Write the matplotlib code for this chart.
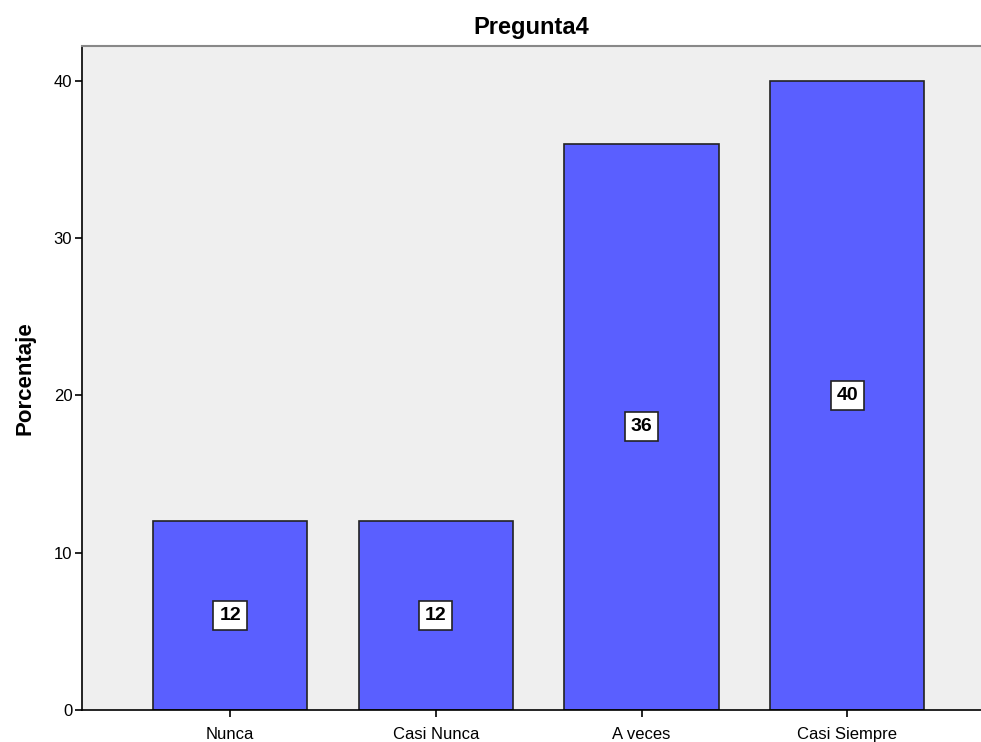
import matplotlib.pyplot as plt

# Response categories and percentages
categorias = ['Nunca', 'Casi Nunca', 'A veces', 'Casi Siempre']
porcentajes = [12, 12, 36, 40]

plt.rcParams['font.family'] = ['Liberation Sans', 'DejaVu Sans']

fig = plt.figure(figsize=(9.81, 7.42), dpi=100)
ax = fig.add_axes([0.0836, 0.0431, 0.9164, 0.8949])
ax.set_facecolor('#efefef')

x = range(len(categorias))
ax.bar(x, porcentajes, width=0.75, color='#5a5fff', edgecolor='#222222', linewidth=1.2, zorder=2)

# value labels in white boxes at mid-height of each bar
for xi, v in zip(x, porcentajes):
    ax.text(xi, v / 2, str(v), ha='center', va='center', fontsize=14, fontweight='bold',
            bbox=dict(boxstyle='square,pad=0.3', facecolor='white', edgecolor='#222222', linewidth=1.2),
            zorder=3)

ax.set_xlim(-0.72, 3.65)
ax.set_ylim(0, 42.2)
ax.set_xticks(list(x))
ax.set_xticklabels(categorias, fontsize=12)
ax.set_yticks([0, 10, 20, 30, 40])
ax.tick_params(axis='y', labelsize=12, length=5, width=1.2, pad=2)
ax.tick_params(axis='x', length=5, width=1.2, pad=7)

ax.spines['right'].set_visible(False)
ax.spines['top'].set_color('#888888')
ax.spines['top'].set_linewidth(1.5)
ax.spines['left'].set_linewidth(1.2)
ax.spines['bottom'].set_linewidth(1.2)

ax.set_ylabel('Porcentaje', fontsize=16, fontweight='bold', labelpad=13)
ax.set_title('Pregunta4', fontsize=17, fontweight='bold', pad=9)

fig.savefig('out.png', dpi=100)
